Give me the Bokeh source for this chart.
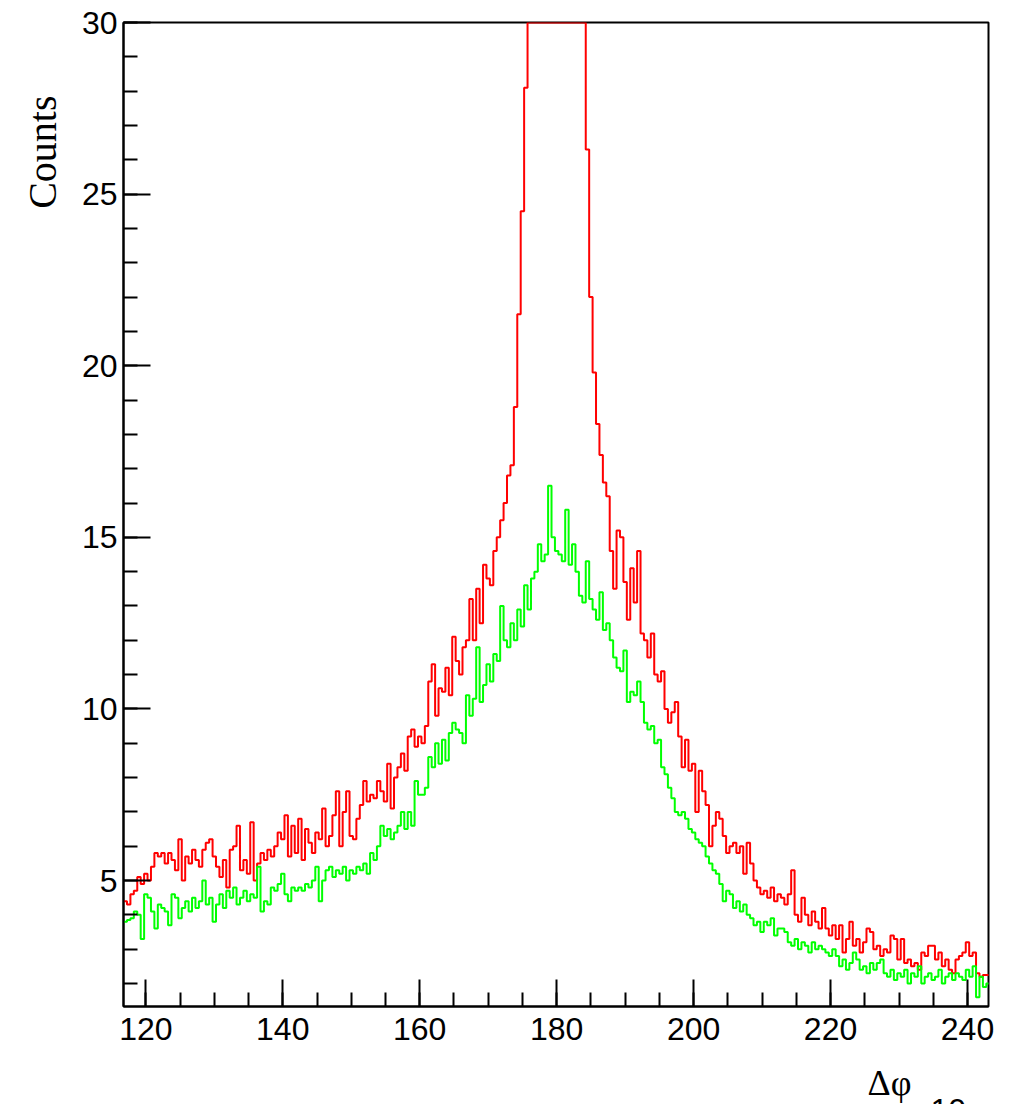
import numpy as np
from bokeh.plotting import figure
from bokeh.models import FixedTicker, Label, Range1d, Title
from bokeh.embed import file_html
from bokeh.resources import INLINE

# ---- data -------------------------------------------------------------
bin_start = 116.75
bin_width = 0.5

red_counts = [
    4.4, 4.3, 4.6, 4.7, 5.1, 4.9, 5.2, 5.0, 5.4, 5.8,
    5.7, 5.8, 5.5, 5.8, 5.6, 5.3, 6.2, 5.0, 5.7, 5.5,
    5.9, 5.6, 5.4, 5.9, 6.1, 6.2, 5.7, 5.4, 5.1, 5.6,
    4.8, 5.9, 6.0, 6.6, 5.3, 5.6, 5.2, 6.7, 5.0, 5.5,
    5.8, 5.6, 5.9, 5.7, 6.0, 6.4, 6.2, 6.9, 5.7, 6.6,
    5.8, 6.8, 5.6, 6.5, 6.1, 5.8, 6.4, 6.2, 7.1, 6.0,
    6.3, 6.9, 7.6, 6.0, 7.0, 7.6, 6.3, 6.2, 6.8, 7.2,
    7.9, 7.3, 7.5, 7.4, 7.9, 7.6, 7.3, 8.4, 7.1, 8.0,
    8.3, 8.7, 8.2, 9.2, 9.4, 8.9, 9.2, 9.0, 9.5, 10.8,
    11.3, 9.8, 10.6, 10.5, 11.2, 10.4, 12.1, 11.4, 11.0, 11.8,
    12.0, 13.2, 12.0, 13.5, 12.5, 14.2, 13.8, 13.6, 14.6, 15.0,
    15.5, 16.0, 16.8, 17.1, 18.8, 21.5, 24.5, 28.1, 33.0, 38.0,
    44.0, 50.0, 56.0, 61.0, 65.0, 67.0, 68.0, 66.0, 63.0, 58.0,
    52.0, 46.0, 40.0, 35.0, 31.0, 26.3, 22.0, 19.8, 18.3, 17.4,
    16.6, 16.2, 14.6, 13.5, 15.2, 15.0, 13.7, 12.6, 14.1, 13.1,
    14.6, 12.2, 12.0, 11.5, 12.2, 11.0, 10.8, 11.1, 10.0, 9.6,
    9.9, 10.2, 9.2, 8.3, 9.1, 8.2, 8.4, 7.0, 8.2, 7.6,
    7.2, 6.0, 6.6, 7.0, 6.8, 6.3, 5.8, 6.0, 6.1, 5.8,
    6.0, 5.2, 6.1, 5.5, 5.0, 4.8, 4.6, 4.7, 4.5, 4.8,
    4.4, 4.6, 4.5, 4.3, 4.6, 5.3, 4.0, 3.8, 4.5, 4.0,
    3.7, 4.1, 3.8, 3.6, 4.2, 3.6, 3.4, 3.7, 3.3, 3.7,
    2.9, 3.3, 3.8, 3.1, 3.3, 2.9, 3.2, 3.6, 3.5, 3.0,
    3.1, 2.8, 3.0, 2.9, 3.4, 3.3, 2.7, 3.3, 2.6, 2.7,
    2.5, 2.6, 2.4, 2.9, 2.8, 3.1, 3.1, 2.7, 2.9, 2.5,
    2.7, 2.4, 2.3, 2.7, 2.8, 2.9, 3.2, 2.8, 2.9, 2.3,
    2.2, 2.25, 2.25,
]

green_counts = [
    3.8, 3.85, 3.9, 4.1, 4.0, 3.3, 4.6, 4.5, 4.1, 3.6,
    4.3, 4.2, 4.1, 3.7, 4.6, 4.5, 3.9, 4.2, 4.4, 4.1,
    4.5, 4.2, 4.4, 5.0, 4.3, 4.5, 3.8, 4.3, 4.6, 4.2,
    4.7, 4.5, 4.8, 4.3, 4.5, 4.7, 4.4, 4.6, 4.5, 5.4,
    4.1, 4.4, 4.3, 4.8, 4.7, 4.9, 5.2, 4.6, 4.4, 4.8,
    4.7, 4.8, 4.7, 4.9, 4.8, 5.0, 5.4, 4.4, 5.0, 5.3,
    5.4, 5.1, 5.3, 5.2, 5.4, 5.0, 5.3, 5.2, 5.4, 5.3,
    5.5, 5.2, 5.8, 5.6, 6.0, 6.6, 6.3, 6.5, 6.2, 6.4,
    6.6, 7.0, 6.5, 7.0, 6.6, 7.9, 7.5, 7.5, 7.7, 8.6,
    8.3, 9.0, 8.4, 9.1, 8.5, 9.3, 9.6, 9.4, 9.3, 9.0,
    10.4, 9.8, 10.3, 11.8, 10.2, 10.7, 11.3, 10.8, 11.6, 11.4,
    13.0, 12.0, 11.8, 12.5, 12.0, 12.9, 12.4, 13.6, 12.9, 13.8,
    14.0, 14.8, 14.3, 14.5, 16.5, 15.0, 14.6, 14.5, 14.3, 15.8,
    14.2, 14.8, 14.0, 13.3, 13.1, 14.3, 13.2, 12.9, 12.6, 13.4,
    12.3, 12.5, 12.0, 11.5, 11.2, 11.1, 11.7, 10.2, 10.5, 10.4,
    10.8, 10.2, 9.6, 9.4, 9.5, 9.0, 9.1, 8.3, 8.1, 7.7,
    7.4, 7.0, 6.9, 7.0, 6.8, 6.5, 6.4, 6.2, 6.1, 6.0,
    5.7, 5.5, 5.3, 5.2, 4.9, 4.4, 4.7, 4.6, 4.2, 4.4,
    4.1, 4.3, 4.0, 3.9, 3.7, 3.8, 3.5, 3.8, 3.7, 3.9,
    3.4, 3.6, 3.6, 3.5, 3.2, 3.1, 3.3, 3.0, 3.2, 3.1,
    2.9, 3.2, 3.0, 3.1, 3.0, 2.9, 2.8, 3.0, 2.8, 2.5,
    2.7, 2.4, 2.6, 2.9, 2.7, 2.4, 2.5, 2.3, 2.6, 2.4,
    2.6, 2.7, 2.3, 2.2, 2.4, 2.1, 2.3, 2.2, 2.4, 2.0,
    2.3, 2.2, 2.5, 2.0, 2.2, 2.3, 2.1, 2.2, 2.4, 2.0,
    2.2, 2.3, 2.1, 2.3, 2.2, 2.1, 2.4, 2.2, 2.5, 1.6,
    2.2, 1.9, 2.0,
]

x_major_ticks = [120, 140, 160, 180, 200, 220, 240]
x_minor_ticks = list(range(115, 245, 5))
y_major_ticks = [5, 10, 15, 20, 25, 30]
y_minor_ticks = list(range(1, 31))

x_lo, x_hi = 116.74, 243.07
y_lo, y_hi = 1.33, 30.0

y_title = "Counts"
x_title = "\u0394\u03c6"
x_exponent = "10"


def step_xy(counts):
    c = np.asarray(counts, dtype=float)
    edges = bin_start + bin_width * np.arange(len(c) + 1)
    xs = np.repeat(edges, 2)[1:-1]
    ys = np.minimum(np.repeat(c, 2), y_hi)
    return xs, ys


# ---- figure -----------------------------------------------------------
p = figure(
    width=1011, height=1104,
    output_backend="svg", toolbar_location=None,
    x_range=Range1d(x_lo, x_hi), y_range=Range1d(y_lo, y_hi),
    min_border_left=123, min_border_right=23,
    min_border_top=22, min_border_bottom=98,
)
p.background_fill_color = "white"
p.border_fill_color = "white"
p.outline_line_color = "black"
p.outline_line_width = 2
p.xgrid.visible = False
p.ygrid.visible = False

for ax in (p.xaxis[0], p.yaxis[0]):
    ax.axis_line_color = "black"
    ax.axis_line_width = 2
    ax.major_tick_in = 27
    ax.major_tick_out = 0
    ax.minor_tick_in = 14
    ax.minor_tick_out = 0
    ax.major_tick_line_width = 2
    ax.minor_tick_line_width = 2
    ax.major_tick_line_color = "black"
    ax.minor_tick_line_color = "black"
    ax.major_label_text_font = "Liberation Sans"
    ax.major_label_text_font_size = "32px"
    ax.major_label_text_color = "black"

p.xaxis[0].ticker = FixedTicker(ticks=x_major_ticks, minor_ticks=x_minor_ticks)
p.yaxis[0].ticker = FixedTicker(ticks=y_major_ticks, minor_ticks=y_minor_ticks)
p.xaxis[0].major_label_standoff = 11
p.yaxis[0].major_label_standoff = 6

rx, ry = step_xy(red_counts)
gx, gy = step_xy(green_counts)
p.line(rx, ry, line_color="#ff0000", line_width=2)
p.line(gx, gy, line_color="#00ff00", line_width=2)

# ROOT-style axis titles: y title at top of the axis, x title near right end
p.add_layout(Title(text=y_title, align="right", offset=73, standoff=27,
                   text_font="Liberation Serif", text_font_size="40px",
                   text_font_style="normal", text_color="black"), "left")
p.add_layout(Label(x=744, y=0, x_units="screen", y_units="screen",
                   text=x_title, text_align="left", text_baseline="alphabetic",
                   text_font="Liberation Serif", text_font_size="36px",
                   text_color="black"), "below")
p.add_layout(Label(x=807, y=-5, x_units="screen", y_units="screen",
                   text=x_exponent, text_align="left", text_baseline="alphabetic",
                   text_font="Liberation Sans", text_font_size="32px",
                   text_color="black"), "below")

open("out.html", "w").write(file_html(p, INLINE))
